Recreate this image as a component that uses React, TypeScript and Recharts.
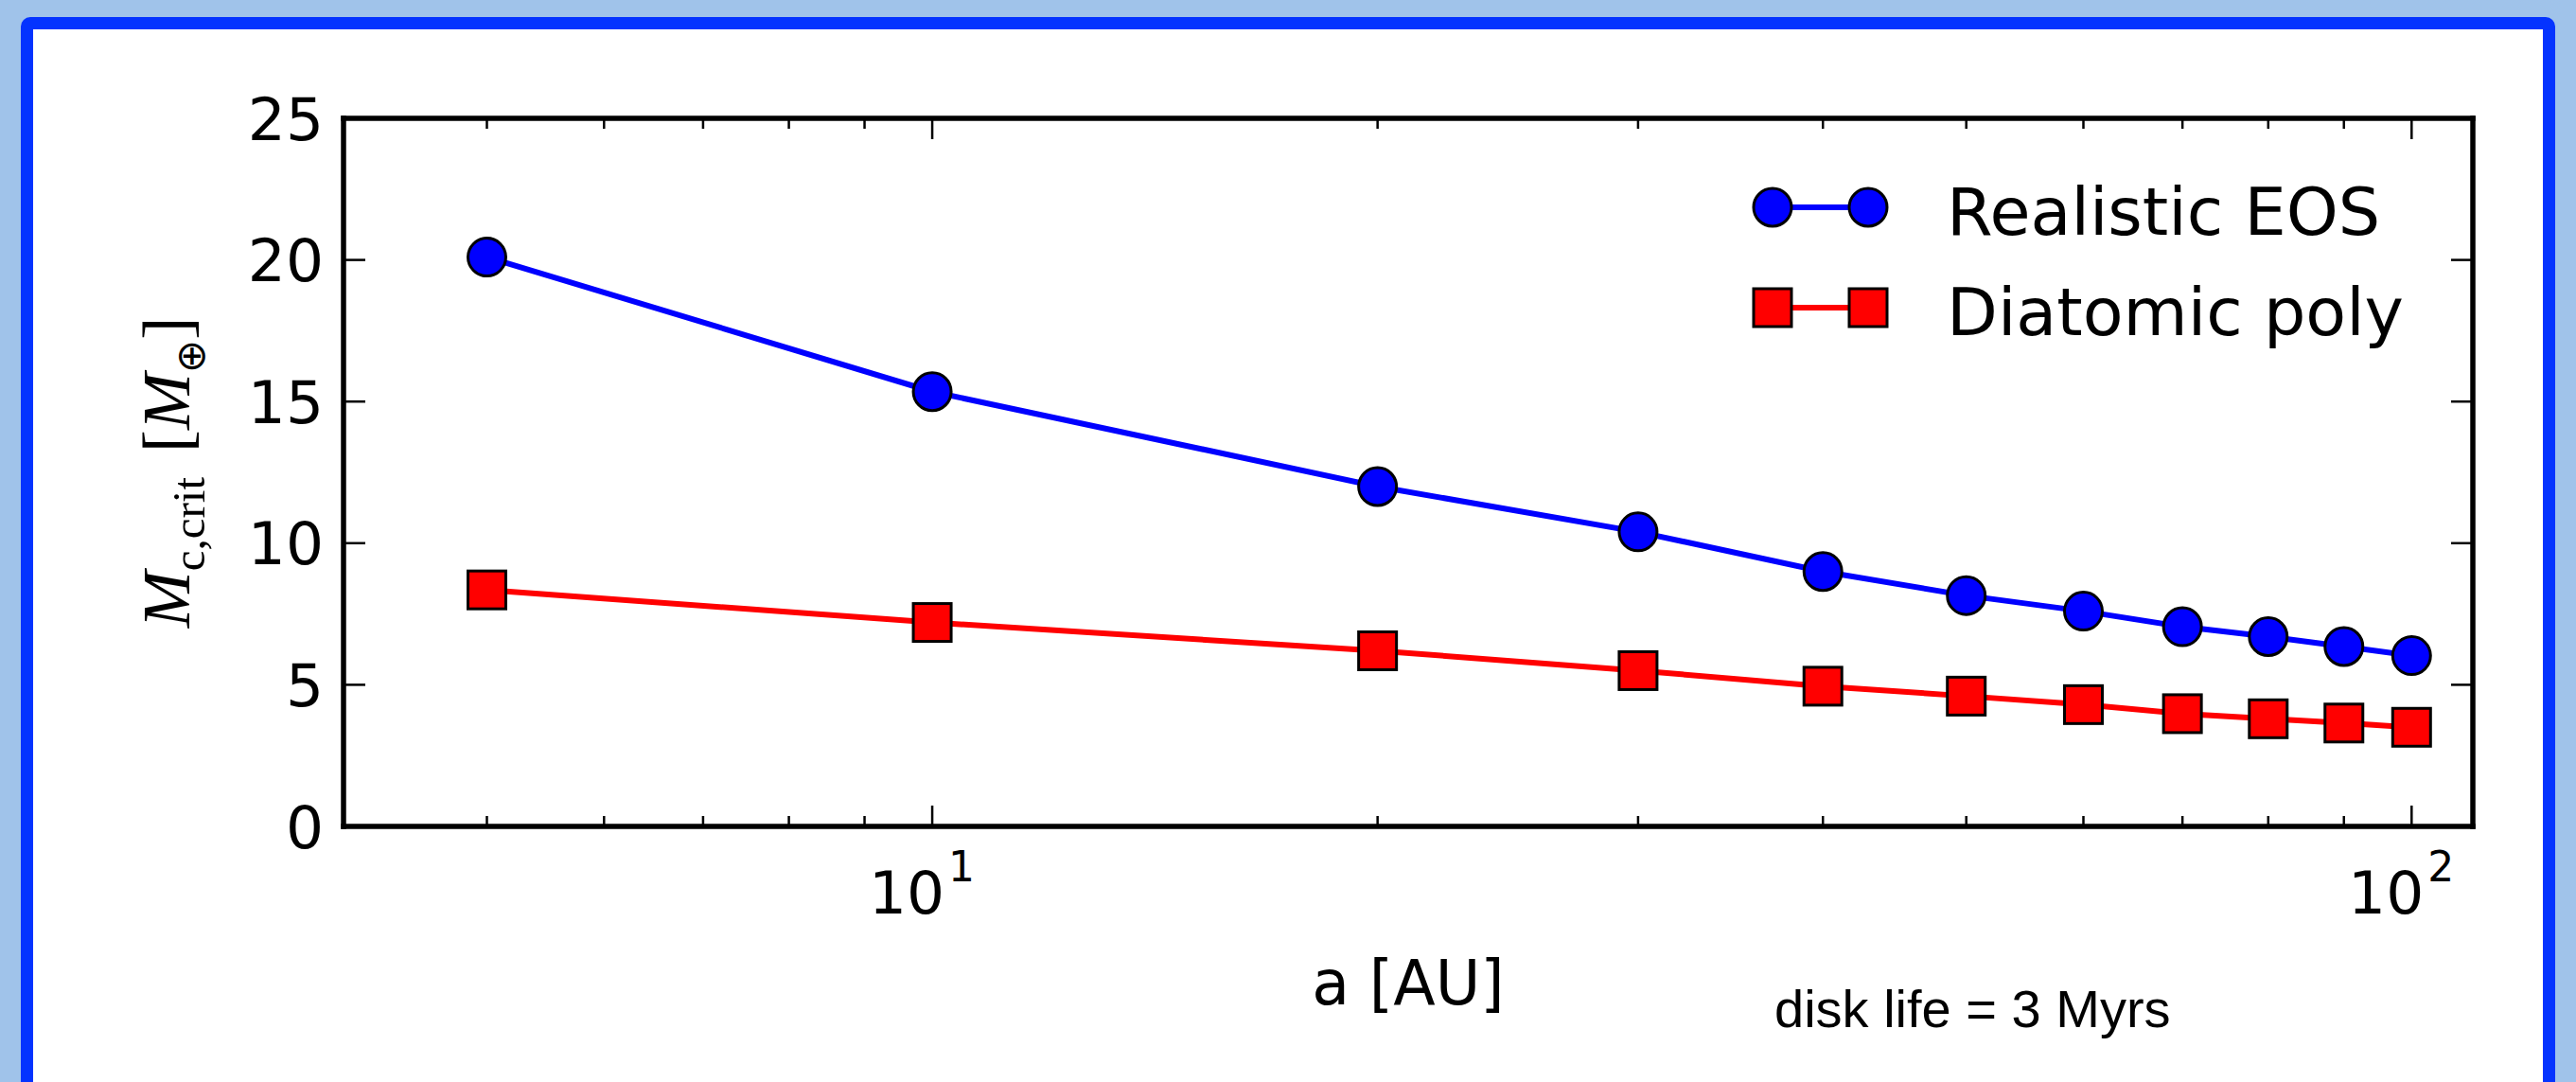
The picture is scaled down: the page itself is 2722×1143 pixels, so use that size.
import React from 'react';
import { LineChart, Line, XAxis, YAxis, Legend } from 'recharts';

// semi-major axis [AU]
const distances = [5, 10, 20, 30, 40, 50, 60, 70, 80, 90, 100];
// critical core mass [M_earth]
const realisticEos = [20.1, 15.35, 12.0, 10.4, 9.0, 8.15, 7.6, 7.05, 6.7, 6.35, 6.03];
const diatomicPoly = [8.35, 7.2, 6.2, 5.5, 4.95, 4.6, 4.3, 3.98, 3.8, 3.65, 3.5];

const xTicks = [4, 5, 6, 7, 8, 9, 10, 20, 30, 40, 50, 60, 70, 80, 90, 100];
const xMajorExp: Record<number, string> = { 10: '1', 100: '2' };
const yTicks = [0, 5, 10, 15, 20, 25];
const legendOrder = ['realistic', 'diatomic'];

const data = distances.map((a, i) => ({
  a,
  realistic: realisticEos[i],
  diatomic: diatomicPoly[i],
}));

const SANS = "'DejaVu Sans', sans-serif";
const SERIF = "'Liberation Serif', 'DejaVu Serif', serif";
const TICK_W = 2.5;
const AXIS_LINE = { stroke: '#000', strokeWidth: 5.5, strokeLinecap: 'square' as const };

function BottomTick({ x, y, payload }: any) {
  const exp = xMajorExp[payload.value];
  const len = exp ? 22 : 11;
  return (
    <g>
      <line x1={x} x2={x} y1={y} y2={y - len} stroke="#000" strokeWidth={TICK_W} />
      {exp && (
        <g fontFamily={SANS} fill="#000">
          <text x={x + 13} y={y + 92} textAnchor="end" fontSize={63}>10</text>
          <text x={x + 17} y={y + 58} fontSize={44}>{exp}</text>
        </g>
      )}
    </g>
  );
}

function TopTick({ x, y, payload }: any) {
  const len = xMajorExp[payload.value] ? 22 : 11;
  return <line x1={x} x2={x} y1={y} y2={y + len} stroke="#000" strokeWidth={TICK_W} />;
}

function LeftTick({ x, y, payload }: any) {
  return (
    <g>
      <line x1={x} x2={x + 23} y1={y} y2={y} stroke="#000" strokeWidth={TICK_W} />
      <text x={x - 21} y={y} dy="0.36em" textAnchor="end" fontFamily={SANS} fontSize={63} fill="#000">
        {payload.value}
      </text>
    </g>
  );
}

function RightTick({ x, y }: any) {
  return <line x1={x - 23} x2={x} y1={y} y2={y} stroke="#000" strokeWidth={TICK_W} />;
}

function XLabel({ viewBox }: any) {
  const cx = viewBox.x + viewBox.width / 2;
  return (
    <text x={cx} y={viewBox.y + 188} textAnchor="middle" fontFamily={SANS} fontSize={65} fill="#000">
      a [AU]
    </text>
  );
}

function YLabel({ viewBox }: any) {
  const bx = viewBox.x + viewBox.width - 163;
  const cy = viewBox.y + viewBox.height / 2;
  return (
    <text
      x={bx}
      y={cy}
      transform={`rotate(-90 ${bx} ${cy})`}
      textAnchor="middle"
      fontFamily={SERIF}
      fontSize={72}
      fill="#000"
    >
      <tspan fontStyle="italic">M</tspan>
      <tspan fontSize={49} dy={16}>c,crit</tspan>
      <tspan dy={-16} dx={26}>[</tspan>
      <tspan fontStyle="italic">M</tspan>
      <tspan fontSize={42} dy={16} fontFamily="'DejaVu Sans'">⊕</tspan>
      <tspan dy={-16}>]</tspan>
    </text>
  );
}

function LegendContent({ payload }: any) {
  const rows = [...(payload ?? [])].sort(
    (p: any, q: any) => legendOrder.indexOf(p.dataKey) - legendOrder.indexOf(q.dataKey),
  );
  return (
    <svg width={800} height={220}>
      {rows.map((entry: any, i: number) => {
        const cy = 49 + i * 106;
        const color = entry.color;
        const square = entry.dataKey === 'diatomic';
        const marker = (cx: number) =>
          square ? (
            <rect x={cx - 20} y={cy - 20} width={40} height={40} fill={color} stroke="#000" strokeWidth={3} />
          ) : (
            <circle cx={cx} cy={cy} r={20} fill={color} stroke="#000" strokeWidth={3} />
          );
        return (
          <g key={entry.dataKey}>
            <line x1={33} x2={134} y1={cy} y2={cy} stroke={color} strokeWidth={6} />
            {marker(33)}
            {marker(134)}
            <text x={217} y={cy + 29} fontFamily={SANS} fontSize={70} fill="#000">
              {entry.value}
            </text>
          </g>
        );
      })}
    </svg>
  );
}

const circleDot = (p: any) => (
  <circle key={`c${p.index}`} cx={p.cx} cy={p.cy} r={20} fill="#0000ff" stroke="#000" strokeWidth={3} />
);

const squareDot = (p: any) => (
  <rect key={`s${p.index}`} x={p.cx - 20} y={p.cy - 20} width={40} height={40} fill="#ff0000" stroke="#000" strokeWidth={3} />
);

export default function App() {
  return (
    <div
      style={{
        position: 'absolute',
        left: 0,
        top: 0,
        width: 2722,
        height: 1143,
        overflow: 'hidden',
        background: '#a0c3ea',
      }}
    >
      <div
        style={{
          position: 'absolute',
          left: 22,
          top: 18,
          width: 2700 - 22,
          height: 1250,
          boxSizing: 'border-box',
          border: '13px solid #0433ff',
          borderRadius: 10,
          background: '#fff',
        }}
      />
      <div style={{ position: 'absolute', left: 0, top: 0 }}>
        <LineChart
          width={2722}
          height={1143}
          data={data}
          margin={{ top: 105, right: 89, bottom: 120, left: 263 }}
        >
          <XAxis
            dataKey="a"
            type="number"
            scale="log"
            domain={[4, 110]}
            allowDataOverflow
            ticks={xTicks}
            interval={0}
            tick={<BottomTick />}
            tickLine={false}
            tickSize={0}
            tickMargin={0}
            axisLine={AXIS_LINE}
            height={150}
            label={<XLabel />}
          />
          <XAxis
            xAxisId="top"
            orientation="top"
            dataKey="a"
            type="number"
            scale="log"
            domain={[4, 110]}
            allowDataOverflow
            ticks={xTicks}
            interval={0}
            tick={<TopTick />}
            tickLine={false}
            tickSize={0}
            tickMargin={0}
            axisLine={AXIS_LINE}
            height={20}
          />
          <YAxis
            type="number"
            domain={[0, 25]}
            allowDataOverflow
            ticks={yTicks}
            interval={0}
            tick={<LeftTick />}
            tickLine={false}
            tickSize={0}
            tickMargin={0}
            axisLine={AXIS_LINE}
            width={100}
            label={<YLabel />}
          />
          <YAxis
            yAxisId="right"
            orientation="right"
            type="number"
            domain={[0, 25]}
            allowDataOverflow
            ticks={yTicks}
            interval={0}
            tick={<RightTick />}
            tickLine={false}
            tickSize={0}
            tickMargin={0}
            axisLine={AXIS_LINE}
            width={20}
          />
          <Legend
            layout="horizontal"
            align="center"
            verticalAlign="middle"
            content={<LegendContent />}
            wrapperStyle={{ left: 1840, top: 170, width: 800, height: 220 }}
          />
          <Line
            dataKey="realistic"
            name="Realistic EOS"
            stroke="#0000ff"
            strokeWidth={6}
            dot={circleDot}
            activeDot={false}
            isAnimationActive={false}
          />
          <Line
            dataKey="diatomic"
            name="Diatomic poly"
            stroke="#ff0000"
            strokeWidth={6}
            dot={squareDot}
            activeDot={false}
            isAnimationActive={false}
          />
        </LineChart>
      </div>
      <svg
        width={2722}
        height={1143}
        style={{ position: 'absolute', left: 0, top: 0, pointerEvents: 'none' }}
      >
        <text x={1875} y={1085} fontFamily="'Liberation Sans', Arial, sans-serif" fontSize={56} fill="#000">
          disk life = 3 Myrs
        </text>
      </svg>
    </div>
  );
}
